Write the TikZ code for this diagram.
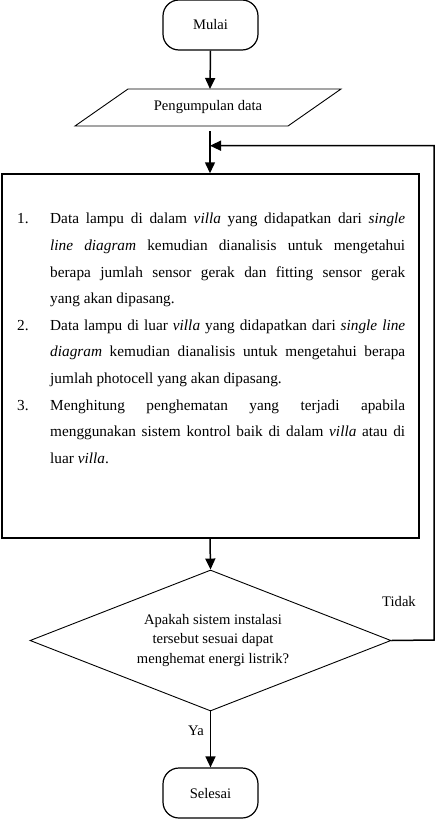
\documentclass[tikz,border=0pt]{standalone}
\usepackage{fontspec}
\setmainfont{Liberation Serif}
\usetikzlibrary{arrows.meta,shapes.geometric}
\tikzset{
  arr/.style={line width=1.5pt,-{Triangle[length=11pt,width=10pt]}},
  term/.style={draw,line width=1.2pt,rounded corners=16pt,minimum width=95pt,minimum height=50pt,inner sep=0pt,font=\fontsize{14.6}{17}\selectfont},
  proc/.style={draw,line width=1.5pt,minimum width=417pt,minimum height=364pt,inner sep=0pt},
  dec/.style={draw,diamond,line width=0.9pt,minimum width=361pt,minimum height=141pt,inner sep=0pt},
  lbl/.style={font=\fontsize{14.6}{17}\selectfont,inner sep=0pt}
}
\newcommand{\itm}[2]{\par\hangindent=33pt\hangafter=1\noindent\makebox[33pt][l]{#1}#2}
\begin{document}
\begin{tikzpicture}[x=1pt,y=-1pt]
\useasboundingbox (0,0) rectangle (435,819);
% terminators
\node[term] (mulai) at (210.5,25) {Mulai};
\node[term] (selesai) at (210.5,793) {Selesai};
% input parallelogram
\node[lbl,minimum width=160pt,minimum height=37pt] (pd) at (208,107.5) {Pengumpulan data};
\draw[line width=0.9pt] (128,89) -- (341,89) -- (288,126) -- (75,126) -- cycle;
% process box
\node[proc] (box) at (210.5,356) {};
\node[anchor=north west,inner sep=0pt,text width=388pt,align=justify] (txt) at (17,197) {%
\fontsize{15.3}{26.6}\selectfont\emergencystretch=3em\tolerance=9999
\itm{1.}{Data lampu di dalam \textit{villa} yang didapatkan dari \textit{single}\linebreak \textit{line diagram} kemudian dianalisis untuk mengetahui\linebreak berapa jumlah sensor gerak dan fitting sensor gerak\linebreak yang akan dipasang.}
\itm{2.}{Data lampu di luar \textit{villa} yang didapatkan dari \textit{single line}\linebreak \textit{diagram} kemudian dianalisis untuk mengetahui berapa\linebreak jumlah photocell yang akan dipasang.}
\itm{3.}{Menghitung penghematan yang terjadi apabila\linebreak menggunakan sistem kontrol baik di dalam \textit{villa} atau di\linebreak luar \textit{villa}.}\par};
% decision
\node[dec] (dec) at (210.5,640.5) {};
\node[lbl,align=center,font=\fontsize{14.6}{19.5}\selectfont] (q) at (213,640.5) {Apakah sistem instalasi\\tersebut sesuai dapat\\menghemat energi listrik?};
\node[lbl] (tidak) at (399,601) {Tidak};
\node[lbl] (ya) at (196,731) {Ya};
% connectors
\coordinate (pdtop) at (210,89);
\coordinate (pdbot) at (210,131);
\coordinate (j) at (210,145.7);
\coordinate (fbr) at (434,640);
\coordinate (fbt) at (434,145.7);
\draw[arr] (mulai.south) -- (pdtop);
\draw[arr] (pdbot) -- (box.north -| pdbot);
\draw[arr] (dec.east) -- (fbr) -- (fbt) -- (j);
\draw[arr] (box.south -| pdbot) -- (dec.north);
\draw[arr] (dec.south) -- (selesai.north);
\end{tikzpicture}
\end{document}
